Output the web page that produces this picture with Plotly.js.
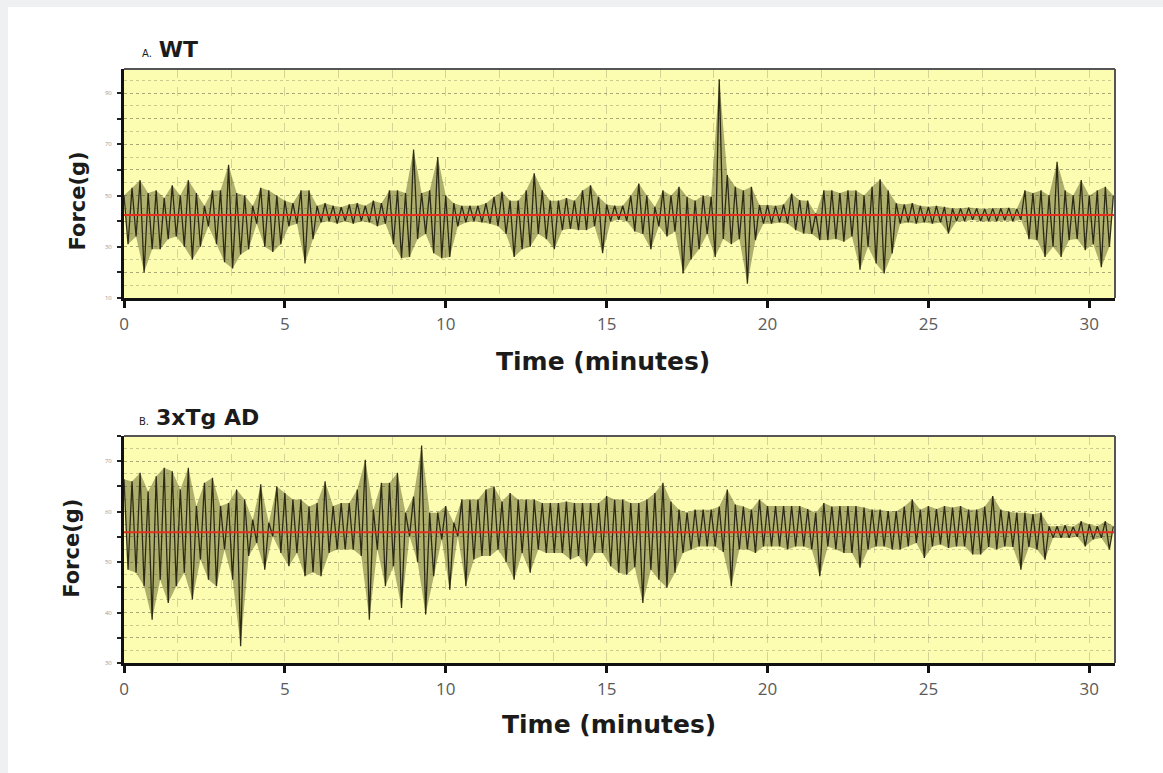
<!DOCTYPE html>
<html>
<head>
<meta charset="utf-8">
<script src="https://cdn.plot.ly/plotly-3.0.1.min.js"></script>
<style>
  html, body { margin: 0; padding: 0; background: #eff0f2; width: 1163px; height: 773px; overflow: hidden; }
  #chart { position: absolute; left: 8px; top: 7px; width: 1155px; height: 766px; background: #ffffff; }
</style>
</head>
<body>
<div id="chart"></div>
<script>
// ---- Data ----
// Force samples, alternating local peak / trough every 7.5 s (0.125 min), one row per minute.
const sampleIntervalMin = 0.125;

const wtForce = [
  50,31, 53,34, 56,20, 51,29,
  52,29, 49,33, 54,34, 50,30,
  56,25, 51,30, 46,38, 52,31,
  52,24, 62,21.5, 51,27, 50,29,
  46,39, 53,30, 52,28, 50,31,
  48,38, 47,39, 52,23.5, 52,33,
  46,39.5, 47,40, 46,39, 45.5,40,
  46.5,39, 47,40, 46,39.5, 48,38,
  47,39, 52,31, 52,25.5, 51,26,
  68,33, 51,35, 52,27.5, 65,25.5,
  50,26, 47,38, 46,39.5, 46,40,
  46,39.5, 47,39, 49.5,38, 51.5,35,
  48,26, 48,29, 52,30, 58.7,35,
  52,33, 48,29, 48,36.5, 49,37,
  48,36.5, 52,36.5, 54,38, 49.5,27.5,
  46.5,40, 46,40.5, 46,40, 50,36,
  54.7,35, 50,29, 45.6,38, 52,34,
  50,36, 53.4,19.6, 49.5,25, 48,29,
  50,35, 49.5,26, 95.4,33, 58,31,
  53.4,33, 52,15.6, 53.4,32.6, 46.3,39,
  46.3,39, 46,39.5, 46.5,39, 50.8,36.5,
  48.2,35.2, 48,35, 43,32.6, 52,32.6,
  52,33, 51,32, 52,34, 52,21,
  50,30, 53.4,23.5, 56.3,19.6, 52,27.4,
  47,39, 46.5,39.5, 47,39, 46,39.5,
  45.6,39, 46,39.5, 45.6,35.2, 45,40,
  45,40, 45.3,40.5, 45,40, 44.8,40,
  45,40, 45,40.3, 45.2,40, 44.8,40.5,
  52,33, 51,32.6, 52,26, 50,30,
  63.2,26, 52,32.6, 50,33, 56,28.7,
  50,31, 52,22, 53.4,30, 50
];

const adForce = [
  66.4,48.5, 66,47.9, 67.7,45.2, 64,38.6,
  67,46.5, 68.7,41.9, 68,45.2, 64.4,47.9,
  68.7,42.6, 61.1,50.5, 65.7,46.5, 66.7,45.2,
  61.1,52.5, 61.7,46.5, 64.4,33.3, 62.4,51.2,
  58.4,53.8, 65.4,48.5, 57.8,55.1, 65,51.8,
  63.7,49.2, 62.4,51.8, 62.4,47.2, 61,48,
  61.7,47.2, 66,51.8, 61.1,52.5, 61.7,52.5,
  61.7,52.5, 64.4,51.2, 70.3,38.6, 60.4,52.5,
  65.7,45.2, 65.7,49.2, 67.7,40.9, 59.8,55.1,
  63,50, 73.1,39.6, 59.8,47.2, 59.8,54.5,
  61.1,44.5, 57.8,55.1, 62.4,45.2, 62.4,50.5,
  62.4,51.2, 64.4,51.2, 65,52.5, 62,50,
  63.7,46.5, 62.4,51.8, 62.4,47.9, 62.4,52.5,
  61.7,51.8, 61.7,51.8, 61.7,51.8, 62,50.5,
  61.7,51.2, 61.7,49.2, 61.7,51.8, 61.7,51.8,
  63.1,49.2, 62.4,47.9, 62.4,47.5, 61.7,49,
  61.7,41.9, 62.4,48.5, 63.7,46.5, 65.7,44.9,
  62,47.9, 60.4,51.8, 59.8,52.5, 60.4,53.1,
  60.4,53.1, 60.4,53.1, 61,52, 64.4,45.2,
  61.4,52.5, 61,52.5, 60.4,51.8, 62.4,53.1,
  61.1,53.1, 61.1,53.1, 61.1,52.5, 61.1,53.1,
  61.1,53.1, 60.5,52.5, 59.8,47.2, 61.7,53.1,
  61,52.5, 61.1,51.8, 61.1,51.8, 61.1,48.9,
  60.8,52.5, 60.4,53.1, 60.4,53.1, 60.1,52.5,
  60.1,52.5, 61,53.1, 62.4,53.8, 60.4,50.8,
  61.1,53.1, 60.5,53.5, 61.1,52.8, 60.8,53.1,
  61.1,53.1, 60.4,51.5, 60.4,51.5, 61,53,
  63.1,52.5, 60.4,53.1, 60,53, 59.8,48.5,
  59.8,53, 59.5,52.5, 59.8,50.5, 57.1,54.8,
  57.1,54.8, 57.3,54.8, 57,55, 58.1,53.1,
  57.5,54.5, 57.1,54.8, 58.1,52.5, 57.1
];

const wtMean = 42.4;
const adMean = 55.9;

const timeRange = [0, 30.8];
const wtRange = [10, 99.4];
const adRange = [30, 75];
const wtTickVals = [10, 20, 30, 40, 50, 60, 70, 80, 90];
const wtTickText = ['10', '', '30', '', '50', '', '70', '', '90'];
const adTickVals = [30, 35, 40, 45, 50, 55, 60, 65, 70, 75];
const adTickText = ['30', '', '40', '', '50', '', '60', '', '70', ''];

const panelTitles = ['A.', 'WT', 'B.', '3xTg AD'];
const xTitle = 'Time (minutes)';
const yTitle = 'Force(g)';

// ---- Build ----
function panelTraces(values, xa, ya) {
  const t = values.map((_, i) => i * sampleIntervalMin);
  const hiT = [], hiV = [], loT = [], loV = [];
  values.forEach((v, i) => { if (i % 2 === 0) { hiT.push(t[i]); hiV.push(v); } else { loT.push(t[i]); loV.push(v); } });
  return [
    { x: hiT, y: hiV, xaxis: xa, yaxis: ya, type: 'scatter', mode: 'lines',
      line: { width: 0 }, hoverinfo: 'skip', showlegend: false },
    { x: loT, y: loV, xaxis: xa, yaxis: ya, type: 'scatter', mode: 'lines', fill: 'tonexty',
      fillcolor: 'rgba(80,80,25,0.45)', line: { width: 0 }, hoverinfo: 'skip', showlegend: false },
    { x: t, y: values, xaxis: xa, yaxis: ya, type: 'scatter', mode: 'lines',
      line: { color: 'rgba(15,15,3,0.82)', width: 1.3 }, hoverinfo: 'skip', showlegend: false }
  ];
}
const traces = panelTraces(wtForce, 'x', 'y').concat(panelTraces(adForce, 'x2', 'y2'));

const font = 'Open Sans, Liberation Sans, sans-serif';
const titleFont = 'DejaVu Sans, Verdana, sans-serif';
const vGrid = 'rgba(120,120,90,0.3)';
const hGrid = 'rgba(100,100,70,0.32)';

function xAxis(anchor) {
  return {
    anchor: anchor, domain: [0, 1], range: timeRange,
    tickmode: 'linear', tick0: 0, dtick: 5,
    ticks: 'outside', ticklen: 7, tickwidth: 3, tickcolor: '#111',
    ticklabelstandoff: 2,
    tickfont: { family: font, size: 17, color: '#5a5a5a' },
    showline: true, linewidth: 3, linecolor: '#111',
    showgrid: true, gridcolor: vGrid, griddash: 'dash', gridwidth: 1,
    minor: { tickmode: 'linear', tick0: 0, dtick: 5 / 3, showgrid: true, gridcolor: vGrid, griddash: 'dash', gridwidth: 1, ticks: '' },
    zeroline: false, fixedrange: true
  };
}
function yAxis(anchor, domain, range, vals, text, minorStep) {
  return {
    anchor: anchor, domain: domain, range: range,
    tickmode: 'array', tickvals: vals, ticktext: text,
    ticks: 'outside', ticklen: 4, tickwidth: 2, tickcolor: '#222',
    ticklabelstandoff: 4,
    tickfont: { family: font, size: 6, color: '#9a9a9a' },
    showline: true, linewidth: 3, linecolor: '#111',
    showgrid: true, gridcolor: hGrid, griddash: 'dot', gridwidth: 1,
    minor: { tickmode: 'linear', tick0: range[0], dtick: minorStep, showgrid: true, gridcolor: hGrid, griddash: 'dot', gridwidth: 1, ticks: '' },
    zeroline: false, fixedrange: true
  };
}

function frame(xa, ya) {
  return [
    { type: 'line', xref: xa + ' domain', yref: ya + ' domain', x0: 0, x1: 1, y0: 1, y1: 1, line: { color: '#555', width: 2 } },
    { type: 'line', xref: xa + ' domain', yref: ya + ' domain', x0: 1, x1: 1, y0: 0, y1: 1, line: { color: '#555', width: 2 } }
  ];
}

const titleColor = '#1b1b1b';
const layout = {
  width: 1155, height: 766,
  margin: { l: 116, r: 48, t: 62, b: 110 },
  paper_bgcolor: '#ffffff',
  plot_bgcolor: '#fdfdb2',
  showlegend: false,
  xaxis: xAxis('y'),
  yaxis: yAxis('x', [0.6145, 1], wtRange, wtTickVals, wtTickText, 5),
  xaxis2: xAxis('y2'),
  yaxis2: yAxis('x2', [0, 0.3822], adRange, adTickVals, adTickText, 2.5),
  shapes: [
    { type: 'line', xref: 'x domain', yref: 'y', x0: 0, x1: 1, y0: wtMean, y1: wtMean, line: { color: '#e2301c', width: 2 }, layer: 'above' },
    { type: 'line', xref: 'x2 domain', yref: 'y2', x0: 0, x1: 1, y0: adMean, y1: adMean, line: { color: '#e2301c', width: 2 }, layer: 'above' }
  ].concat(frame('x', 'y'), frame('x2', 'y2')),
  annotations: [
    { xref: 'paper', yref: 'paper', x: 0.016, y: 1.032, xanchor: 'left', yanchor: 'middle', showarrow: false,
      text: '<span style="font-size:10px">' + panelTitles[0] + '</span> <b>' + panelTitles[1] + '</b>',
      font: { family: titleFont, size: 22, color: titleColor } },
    { xref: 'paper', yref: 'paper', x: 0.013, y: 0.4125, xanchor: 'left', yanchor: 'middle', showarrow: false,
      text: '<span style="font-size:10px">' + panelTitles[2] + '</span> <b>' + panelTitles[3] + '</b>',
      font: { family: titleFont, size: 22, color: titleColor } },
    { xref: 'paper', yref: 'paper', x: 0.4834, y: 0.5084, xanchor: 'center', yanchor: 'middle', showarrow: false,
      text: '<b>' + xTitle + '</b>', font: { family: titleFont, size: 25, color: titleColor } },
    { xref: 'paper', yref: 'paper', x: 0.4894, y: -0.1027, xanchor: 'center', yanchor: 'middle', showarrow: false,
      text: '<b>' + xTitle + '</b>', font: { family: titleFont, size: 25, color: titleColor } },
    { xref: 'paper', yref: 'paper', x: -0.0468, y: 0.778, xanchor: 'center', yanchor: 'middle', showarrow: false, textangle: -90,
      text: '<b>' + yTitle + '</b>', font: { family: titleFont, size: 21, color: titleColor } },
    { xref: 'paper', yref: 'paper', x: -0.052, y: 0.193, xanchor: 'center', yanchor: 'middle', showarrow: false, textangle: -90,
      text: '<b>' + yTitle + '</b>', font: { family: titleFont, size: 21, color: titleColor } }
  ]
};

Plotly.newPlot('chart', traces, layout, { staticPlot: true, displayModeBar: false });
</script>
</body>
</html>
